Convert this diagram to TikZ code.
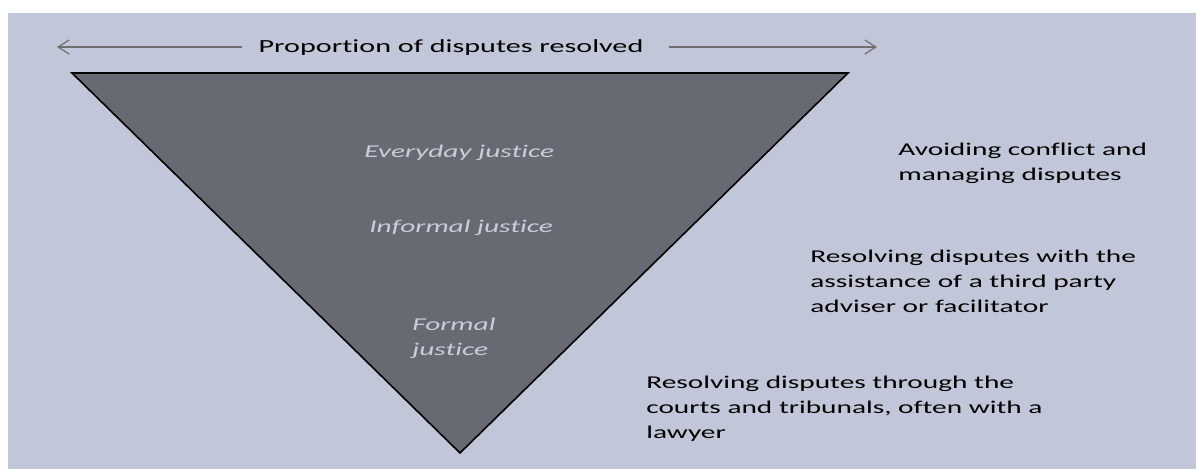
\documentclass[tikz,border=0pt]{standalone}
\usepackage{fontspec}
\setmainfont{Carlito}[Ligatures=NoCommon]
\usetikzlibrary{arrows.meta}
\definecolor{bgblue}{HTML}{C1C7D8}
\definecolor{trifill}{HTML}{686A73}
\definecolor{lighttxt}{HTML}{C9CDD9}
\definecolor{arrowgrey}{HTML}{6E6E70}
\tikzset{
  x=1pt,y=1pt,
  widetext/.style={xscale=1.63,transform shape,inner sep=0pt,align=left},
  blocktext/.style={widetext,anchor=north west,text=black,
    font=\fontsize{18}{25}\selectfont},
  innertext/.style={widetext,anchor=base west,text=lighttxt,
    font=\fontsize{18}{25}\selectfont\itshape},
  rangearrow/.style={draw=arrowgrey,line width=1.4pt,-{Straight Barb[length=11pt,width=14pt,line width=1.2pt]}}
}
\begin{document}
\begin{tikzpicture}
\useasboundingbox (0,0) rectangle (1196,-469);
\fill[white] (0,0) rectangle (1196,-469);
\fill[bgblue] (8,-13) rectangle (1196,-469);
% triangle
\coordinate (TL) at (72,-73);
\coordinate (TR) at (848,-73);
\coordinate (B) at (460,-453);
\filldraw[fill=trifill,draw=black,line width=1.6pt,line join=miter] (TL) -- (TR) -- (B) -- cycle;
% title and arrows
\node[widetext,anchor=base,font=\fontsize{18.5}{24}\selectfont] (title) at (451,-52) {Proportion of disputes resolved};
\coordinate (Ltip) at (57,-47);
\coordinate (Rtip) at (877,-47);
\draw[rangearrow] ([xshift=-16pt]title.west |- Ltip) -- (Ltip);
\draw[rangearrow] ([xshift=25pt]title.east |- Rtip) -- (Rtip);
% inner labels
\node[innertext] (everyday) at (364,-157) {Everyday justice};
\node[innertext] (informal) at (369,-232) {Informal justice};
\node[innertext] (formal) at (412,-355) {Formal\\justice};
% right texts
\node[blocktext] (avoid) at (898,-143) {Avoiding conflict and\\managing disputes};
\node[blocktext] (third) at (810,-250) {Resolving disputes with the\\assistance of a third party\\adviser or facilitator};
\node[blocktext] (courts) at (646,-376) {Resolving disputes through the\\courts and tribunals, often with a\\lawyer};
\end{tikzpicture}
\end{document}
